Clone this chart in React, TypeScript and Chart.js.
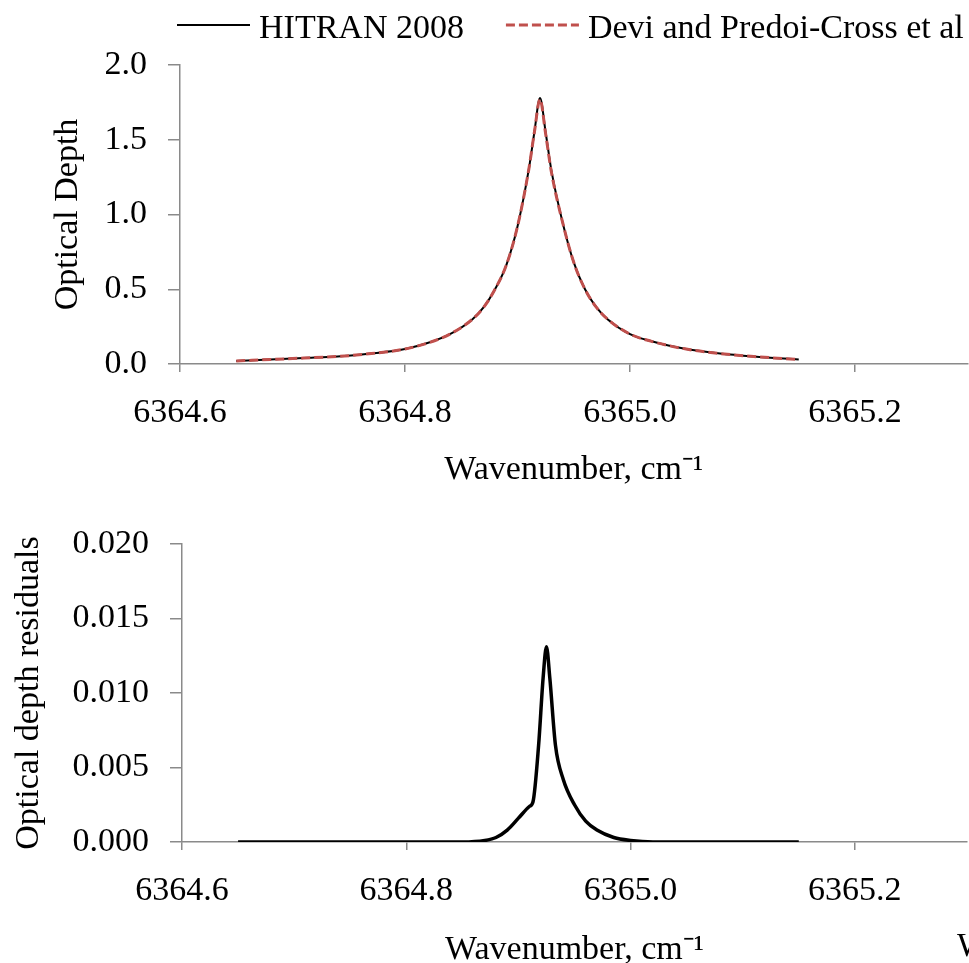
import React, { useEffect, useRef } from 'react';
import { Chart, registerables } from 'chart.js';

Chart.register(...registerables);

// ---------- data ----------
const wavenumbers = [
  6364.65, 6364.68, 6364.71, 6364.74, 6364.77, 6364.8, 6364.82, 6364.84, 6364.86, 6364.87,
  6364.88, 6364.89, 6364.9, 6364.91, 6364.915, 6364.92, 6364.925, 6364.93, 6364.94, 6364.95,
  6364.96, 6364.97, 6364.98, 6365.0, 6365.02, 6365.05, 6365.08, 6365.11, 6365.15,
];
const hitran = [
  0.02, 0.03, 0.04, 0.05, 0.07, 0.1, 0.14, 0.2, 0.3, 0.38,
  0.5, 0.66, 0.92, 1.3, 1.55, 1.78, 1.55, 1.3, 0.95, 0.68,
  0.5, 0.38, 0.3, 0.2, 0.15, 0.1, 0.07, 0.05, 0.03,
];
const devi = [
  0.02, 0.03, 0.04, 0.05, 0.07, 0.1, 0.14, 0.2, 0.3, 0.38,
  0.5, 0.66, 0.92, 1.3, 1.55, 1.77, 1.54, 1.29, 0.95, 0.68,
  0.5, 0.38, 0.3, 0.2, 0.15, 0.1, 0.07, 0.05, 0.03,
];
const residualWavenumbers = [
  6364.65, 6364.75, 6364.85, 6364.87, 6364.88, 6364.89, 6364.9, 6364.91, 6364.913, 6364.918,
  6364.922, 6364.925, 6364.928, 6364.933, 6364.94, 6364.95, 6364.96, 6364.97, 6364.985, 6365.0,
  6365.02, 6365.1, 6365.15,
];
const residuals = [
  0, 0, 0, 0.0001, 0.0003, 0.0008, 0.0016, 0.0024, 0.0027, 0.0065,
  0.011, 0.0131, 0.011, 0.0065, 0.0042, 0.0025, 0.0014, 0.0008, 0.0003, 0.0001,
  0, 0, 0,
];
const xTicks = [6364.6, 6364.8, 6365.0, 6365.2];
const topYTicks = [0, 0.5, 1.0, 1.5, 2.0];
const bottomYTicks = [0, 0.005, 0.01, 0.015, 0.02];
const seriesNames = ['HITRAN 2008', 'Devi and Predoi-Cross et al'];
const xTitle = 'Wavenumber, cm⁻¹';
const topYTitle = 'Optical Depth';
const bottomYTitle = 'Optical depth residuals';

// ---------- styles ----------
const FAMILY = '"Liberation Serif", "Times New Roman", serif';
const FONT = { family: FAMILY, size: 34 };
const AXIS = '#8a8a8a';
const RED = '#C0504D';

const legendPlugin = {
  id: 'lineLegend',
  afterDraw(chart: any) {
    const ctx = chart.ctx;
    ctx.save();
    ctx.font = `34px ${FAMILY}`;
    ctx.textBaseline = 'alphabetic';
    ctx.textAlign = 'left';
    let x = 177;
    const lineY = 25;
    const baseY = 38;
    chart.data.datasets.forEach((ds: any) => {
      const len = 73;
      ctx.beginPath();
      ctx.strokeStyle = ds.borderColor;
      ctx.lineWidth = ds.legendWidth;
      ctx.setLineDash(ds.borderDash || []);
      ctx.moveTo(x, lineY);
      ctx.lineTo(x + len, lineY);
      ctx.stroke();
      ctx.setLineDash([]);
      x += len + 9;
      ctx.fillStyle = '#000';
      ctx.fillText(ds.label, x, baseY);
      x += ctx.measureText(ds.label).width + 42;
    });
    ctx.restore();
  },
};

function xScale(height: number) {
  return {
    type: 'linear',
    min: 6364.6,
    max: 6365.3,
    afterBuildTicks: (s: any) => {
      s.ticks = xTicks.map((v) => ({ value: v }));
    },
    afterFit: (s: any) => {
      s.height = height;
    },
    ticks: {
      font: FONT,
      color: '#000',
      padding: 21,
      maxRotation: 0,
      autoSkip: false,
      callback: (v: any) => Number(v).toFixed(1),
    },
    grid: { drawOnChartArea: false, drawTicks: true, tickLength: 8, color: AXIS, lineWidth: 1.5 },
    border: { display: true, color: AXIS, width: 1.5 },
    title: { display: true, text: xTitle, font: FONT, color: '#000', padding: { top: 0, bottom: 0 } },
  };
}

function yScale(max: number, ticks: number[], digits: number, width: number, titleText: string, titlePad: number) {
  return {
    type: 'linear',
    min: 0,
    max,
    afterBuildTicks: (s: any) => {
      s.ticks = ticks.map((v) => ({ value: v }));
    },
    afterFit: (s: any) => {
      s.width = width;
    },
    ticks: {
      font: FONT,
      color: '#000',
      padding: 21,
      callback: (v: any) => Number(v).toFixed(digits),
    },
    grid: { drawOnChartArea: false, drawTicks: true, tickLength: 12, color: AXIS, lineWidth: 1.5 },
    border: { display: true, color: AXIS, width: 1.5 },
    title: { display: true, text: titleText, font: FONT, color: '#000', padding: { top: titlePad, bottom: 0 } },
  };
}

export default function App() {
  const topRef = useRef<HTMLCanvasElement>(null);
  const botRef = useRef<HTMLCanvasElement>(null);

  useEffect(() => {
    Chart.defaults.color = '#000';
    const top = new Chart(topRef.current as HTMLCanvasElement, {
      type: 'line',
      data: {
        datasets: [
          {
            label: seriesNames[0],
            data: wavenumbers.map((w, i) => ({ x: w, y: hitran[i] })),
            borderColor: '#000',
            borderWidth: 2,
            legendWidth: 2,
            pointRadius: 0,
            cubicInterpolationMode: 'monotone',
            order: 1,
          } as any,
          {
            label: seriesNames[1],
            data: wavenumbers.map((w, i) => ({ x: w, y: devi[i] })),
            borderColor: RED,
            borderWidth: 3,
            legendWidth: 3,
            borderDash: [9, 4],
            pointRadius: 0,
            cubicInterpolationMode: 'monotone',
            order: 0,
          } as any,
        ],
      },
      options: {
        responsive: false,
        animation: false,
        layout: { padding: { top: 65, left: 0, right: 1.5, bottom: 0 } },
        plugins: { legend: { display: false }, tooltip: { enabled: false } },
        scales: {
          x: xScale(126) as any,
          y: yScale(2, topYTicks, 1, 180, topYTitle, 47.6) as any,
        },
      },
      plugins: [legendPlugin],
    });

    const bot = new Chart(botRef.current as HTMLCanvasElement, {
      type: 'line',
      data: {
        datasets: [
          {
            label: 'Residuals',
            data: residualWavenumbers.map((w, i) => ({ x: w, y: residuals[i] })),
            borderColor: '#000',
            borderWidth: 3.5,
            pointRadius: 0,
            cubicInterpolationMode: 'monotone',
          },
        ],
      },
      options: {
        responsive: false,
        animation: false,
        layout: { padding: { top: 54, left: 0, right: 2, bottom: 0 } },
        plugins: { legend: { display: false }, tooltip: { enabled: false } },
        scales: {
          x: xScale(128) as any,
          y: yScale(0.02, bottomYTicks, 3, 182, bottomYTitle, 8.6) as any,
        },
      },
    });

    return () => {
      top.destroy();
      bot.destroy();
    };
  }, []);

  return (
    <div
      style={{
        position: 'absolute',
        left: 0,
        top: 0,
        width: 969,
        height: 963,
        overflow: 'hidden',
        background: '#fff',
      }}
    >
      <canvas ref={topRef} width={969} height={490} style={{ position: 'absolute', left: 0, top: 0 }} />
      <canvas ref={botRef} width={969} height={480} style={{ position: 'absolute', left: 0, top: 490 }} />
      <div
        style={{
          position: 'absolute',
          left: 957,
          top: 920,
          fontFamily: FAMILY,
          fontSize: 34,
          color: '#000',
          whiteSpace: 'nowrap',
        }}
      >
        {xTitle}
      </div>
    </div>
  );
}
